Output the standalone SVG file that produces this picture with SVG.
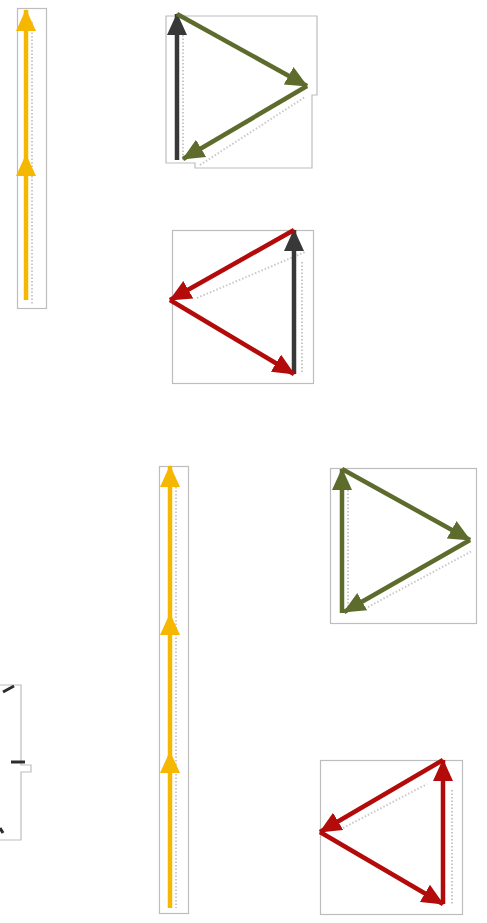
<svg xmlns="http://www.w3.org/2000/svg" width="487" height="923" viewBox="0 0 487 923">
<style>
.box{fill:#ffffff;stroke:#bdbdbd;stroke-width:1.2}
.y{stroke:#f6b700;stroke-width:4.5;fill:none}
.g{stroke:#5d6b2c;stroke-width:4.5;fill:none}
.k{stroke:#383838;stroke-width:4.5;fill:none}
.r{stroke:#b30a0a;stroke-width:4.5;fill:none}
.lbl{stroke:#c9c9c9;stroke-width:2;stroke-dasharray:1.5 2;fill:none}
.frag{stroke:#2c2c2c;stroke-width:3;fill:none}
</style>
<defs>
<marker id="hy" viewBox="0 0 22 22" refX="21" refY="11" markerWidth="22" markerHeight="22" markerUnits="userSpaceOnUse" orient="auto"><path d="M0,1 L22,11 L0,21 z" fill="#f6b700"/></marker>
<marker id="hg" viewBox="0 0 22 22" refX="21" refY="11" markerWidth="22" markerHeight="22" markerUnits="userSpaceOnUse" orient="auto"><path d="M0,1 L22,11 L0,21 z" fill="#5d6b2c"/></marker>
<marker id="hk" viewBox="0 0 22 22" refX="21" refY="11" markerWidth="22" markerHeight="22" markerUnits="userSpaceOnUse" orient="auto"><path d="M0,1 L22,11 L0,21 z" fill="#383838"/></marker>
<marker id="hr" viewBox="0 0 22 22" refX="21" refY="11" markerWidth="22" markerHeight="22" markerUnits="userSpaceOnUse" orient="auto"><path d="M0,1 L22,11 L0,21 z" fill="#b30a0a"/></marker>
</defs>
<rect width="487" height="923" fill="#ffffff"/>

<g id="node-yellow-short">
<rect class="box" x="17.5" y="8.5" width="29" height="300"/>
<line class="lbl" x1="32" y1="22" x2="32" y2="305"/>
</g>
<g id="node-triangle-1">
<polygon class="box" points="166,16 317,16 317,95 312,95 312,168 195,168 195,163 166,163"/>
<line class="lbl" x1="183" y1="35" x2="183" y2="160"/>
<line class="lbl" x1="200" y1="165" x2="305" y2="97"/>
</g>
<g id="node-triangle-2">
<rect class="box" x="172.5" y="230.5" width="141" height="153"/>
<line class="lbl" x1="197" y1="298" x2="305" y2="252"/>
<line class="lbl" x1="302" y1="262" x2="302" y2="372"/>
</g>
<g id="node-yellow-tall">
<rect class="box" x="159.5" y="466.5" width="29" height="447"/>
<line class="lbl" x1="176" y1="480" x2="176" y2="908"/>
</g>
<g id="node-triangle-3">
<rect class="box" x="330.5" y="468.5" width="146" height="155"/>
<line class="lbl" x1="348" y1="490" x2="348" y2="612"/>
<line class="lbl" x1="368" y1="607" x2="472" y2="551"/>
</g>
<g id="node-triangle-4">
<rect class="box" x="320.5" y="760.5" width="142" height="154"/>
<line class="lbl" x1="343" y1="828" x2="427" y2="784"/>
<line class="lbl" x1="452" y1="790" x2="452" y2="905"/>
</g>
<g id="node-partial">
<polyline class="box" points="0,685 21,685 21,765 31,765 31,772 21,772 21,840 0,840" fill="none"/>
<line class="frag" x1="3" y1="692" x2="14" y2="686"/>
<line class="frag" x1="11" y1="762" x2="25" y2="762"/>
<line class="frag" x1="0" y1="828" x2="3" y2="833"/>
</g>

<g id="connectors">
<line class="y" x1="26" y1="300" x2="26" y2="155" marker-end="url(#hy)"/>
<line class="y" x1="26" y1="155" x2="26" y2="10" marker-end="url(#hy)"/>

<line class="k" x1="177" y1="160" x2="177" y2="14" marker-end="url(#hk)"/>
<line class="g" x1="177" y1="14" x2="307" y2="86" marker-end="url(#hg)"/>
<line class="g" x1="307" y1="86" x2="183" y2="159" marker-end="url(#hg)"/>

<line class="k" x1="294" y1="374" x2="294" y2="230" marker-end="url(#hk)"/>
<line class="r" x1="294" y1="230" x2="170" y2="300" marker-end="url(#hr)"/>
<line class="r" x1="170" y1="300" x2="294" y2="374" marker-end="url(#hr)"/>

<line class="y" x1="170" y1="908" x2="170" y2="752" marker-end="url(#hy)"/>
<line class="y" x1="170" y1="752" x2="170" y2="614" marker-end="url(#hy)"/>
<line class="y" x1="170" y1="614" x2="170" y2="466" marker-end="url(#hy)"/>

<line class="g" x1="342" y1="613" x2="342" y2="469" marker-end="url(#hg)"/>
<line class="g" x1="342" y1="469" x2="470" y2="540" marker-end="url(#hg)"/>
<line class="g" x1="470" y1="540" x2="344" y2="612" marker-end="url(#hg)"/>

<line class="r" x1="443" y1="904" x2="443" y2="760" marker-end="url(#hr)"/>
<line class="r" x1="443" y1="760" x2="320" y2="832" marker-end="url(#hr)"/>
<line class="r" x1="320" y1="832" x2="443" y2="904" marker-end="url(#hr)"/>
</g>
</svg>
